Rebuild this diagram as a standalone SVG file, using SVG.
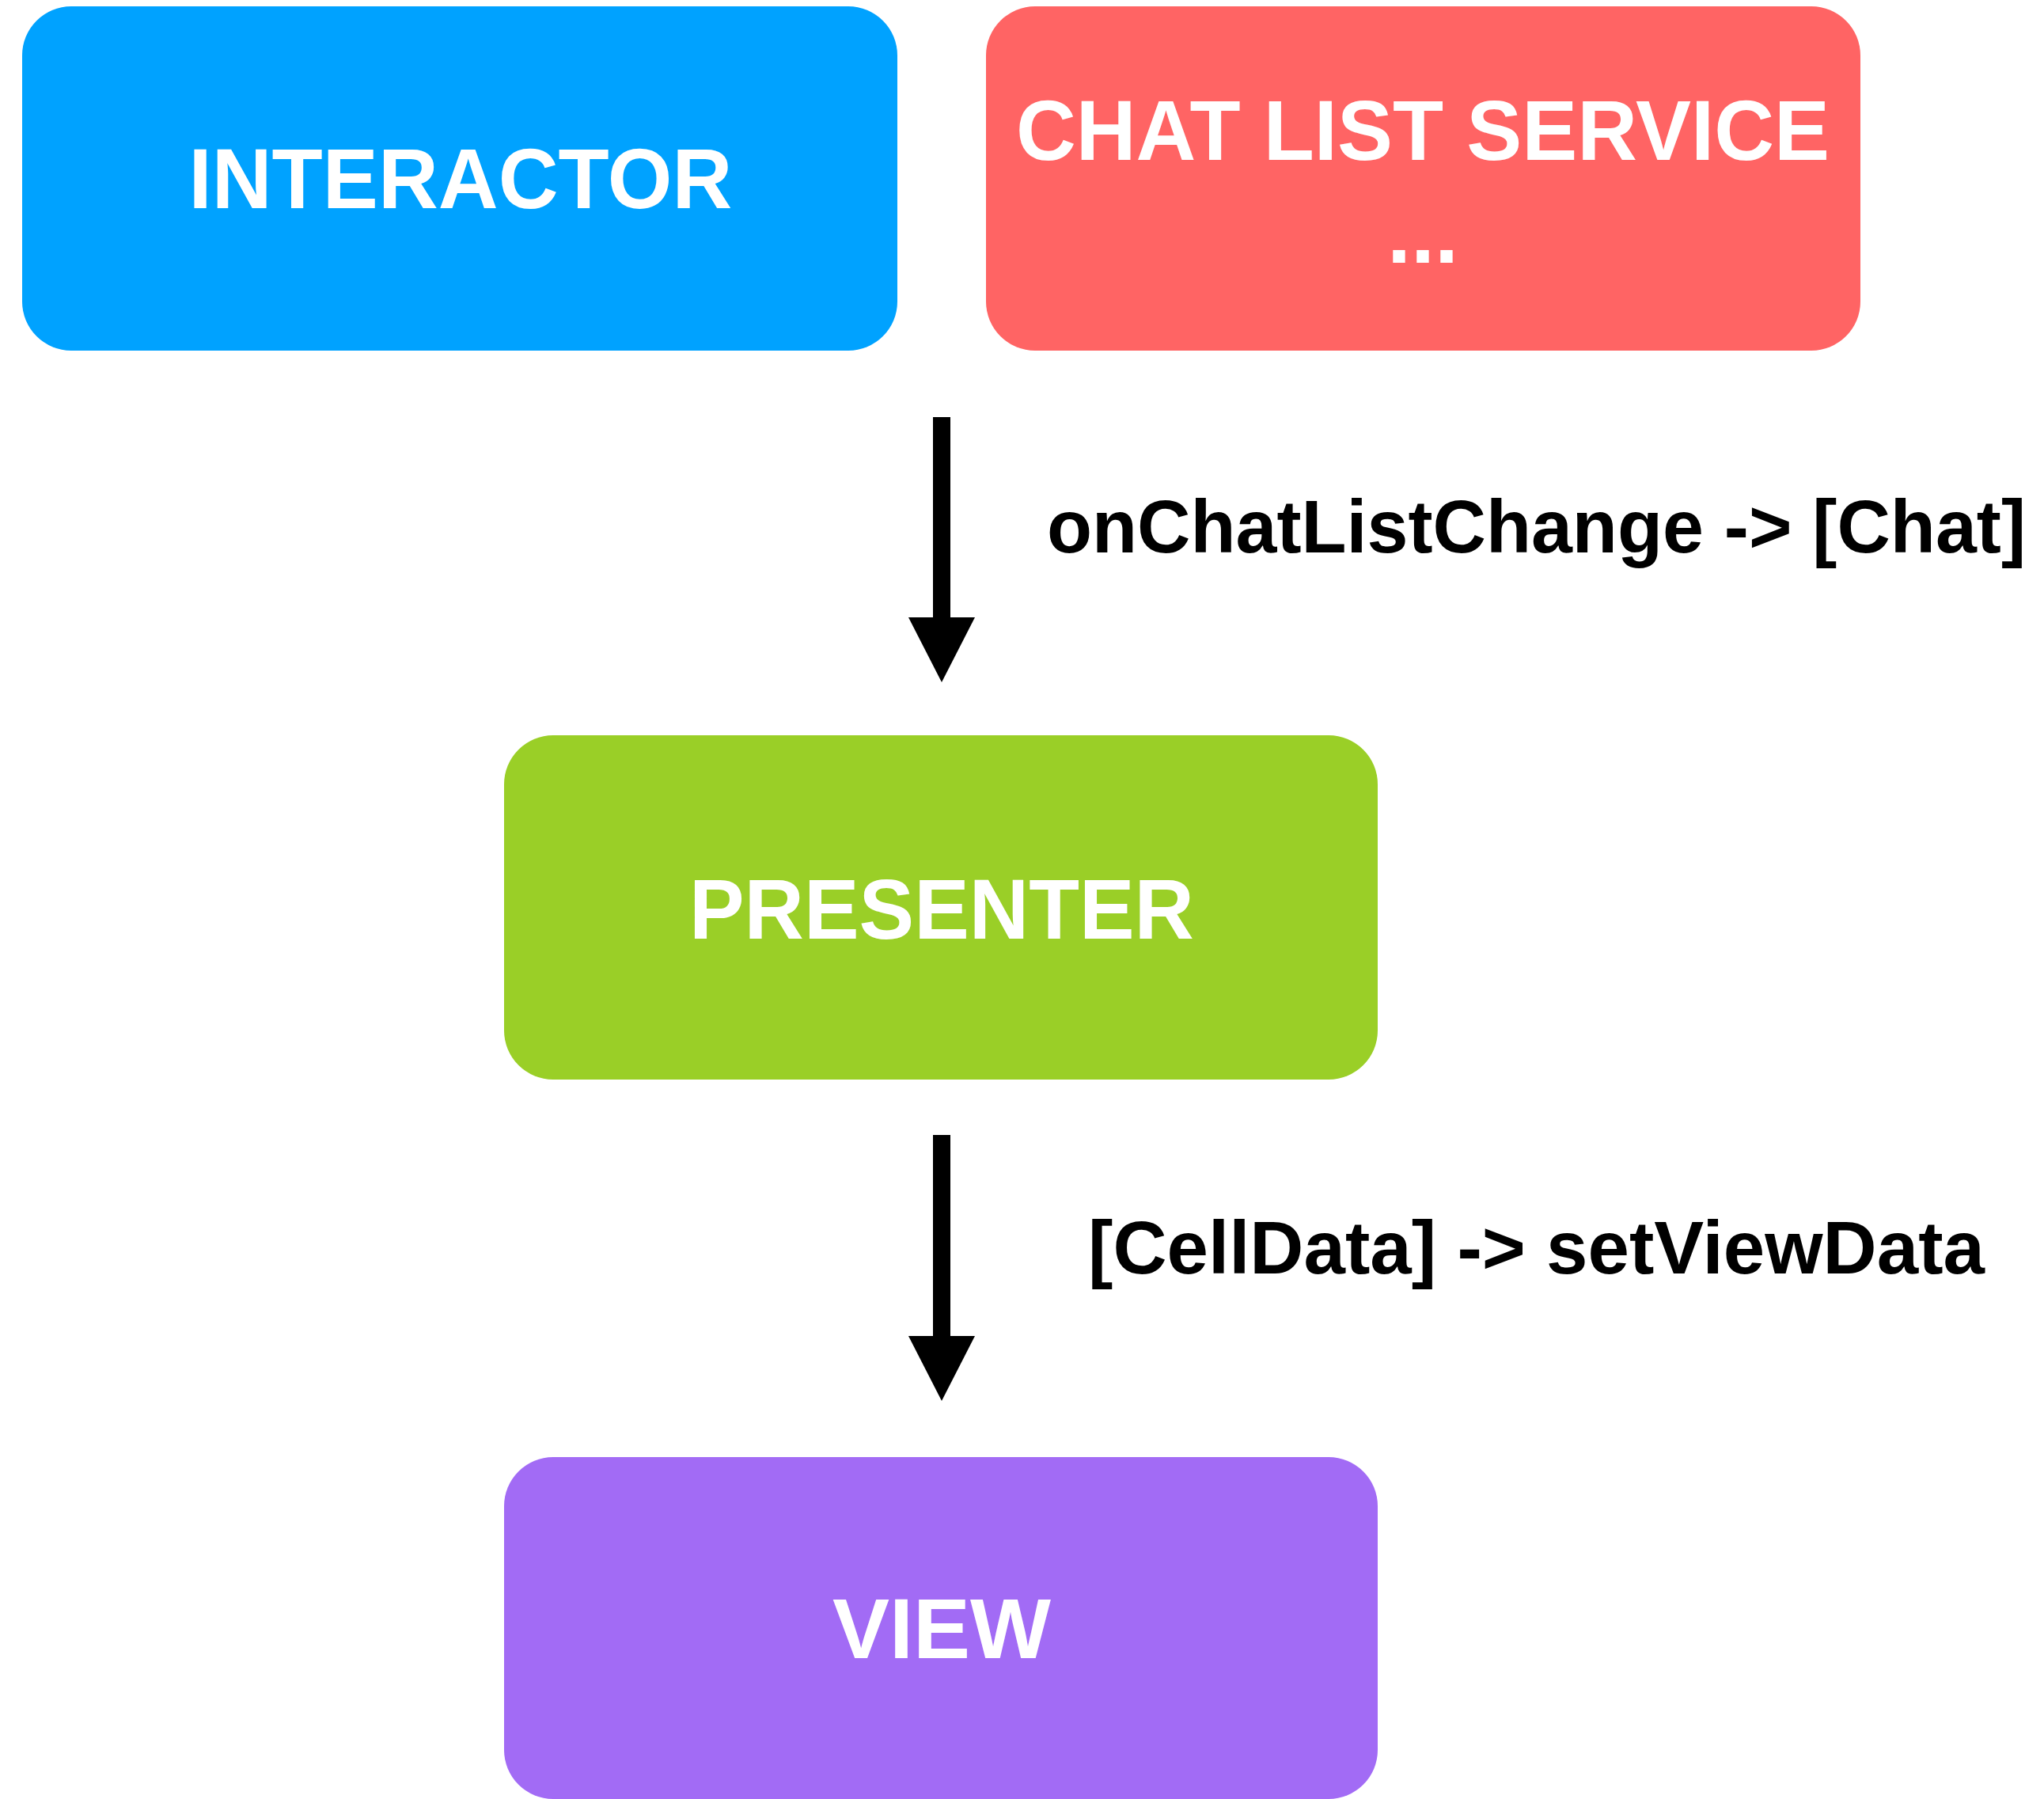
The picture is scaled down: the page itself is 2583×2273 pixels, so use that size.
<svg xmlns="http://www.w3.org/2000/svg" width="2583" height="2273" viewBox="0 0 2583 2273">
<style>
.box-text{font-family:"Liberation Sans",Arial,sans-serif;font-weight:bold;font-size:108px;fill:#ffffff;text-anchor:middle}
.label{font-family:"Liberation Sans",Arial,sans-serif;font-weight:bold;font-size:94px;fill:#000000}
.shaft{fill:#000000}
</style>
<rect width="2583" height="2273" fill="#ffffff"/>
<g id="interactor">
<rect x="28" y="8" width="1106" height="435" rx="62" ry="62" fill="#00A2FF"/>
<text class="box-text" x="582" y="263" textLength="687" lengthAdjust="spacingAndGlyphs">INTERACTOR</text>
</g>
<g id="chat-list-service">
<rect x="1246" y="8" width="1105" height="435" rx="62" ry="62" fill="#FF6464"/>
<text class="box-text" x="1798" y="202" textLength="1028" lengthAdjust="spacingAndGlyphs">CHAT LIST SERVICE</text>
<text class="box-text" x="1798" y="332">...</text>
</g>
<g id="presenter">
<rect x="637" y="929" width="1104" height="435" rx="62" ry="62" fill="#9ACF27"/>
<text class="box-text" x="1190" y="1186" textLength="638" lengthAdjust="spacingAndGlyphs">PRESENTER</text>
</g>
<g id="view">
<rect x="637" y="1841" width="1104" height="432" rx="62" ry="62" fill="#A26BF5"/>
<text class="box-text" x="1190" y="2095">VIEW</text>
</g>
<g id="connectors">
<rect class="shaft" x="1179" y="527" width="22" height="256"/>
<polygon points="1148,780 1232,780 1190,862"/>
<rect class="shaft" x="1179" y="1434" width="22" height="257"/>
<polygon points="1148,1688 1232,1688 1190,1770"/>
<text class="label" x="1323" y="698" textLength="1237" lengthAdjust="spacingAndGlyphs">onChatListChange -&gt; [Chat]</text>
<text class="label" x="1375" y="1609" textLength="1133" lengthAdjust="spacingAndGlyphs">[CellData] -&gt; setViewData</text>
</g>
</svg>
